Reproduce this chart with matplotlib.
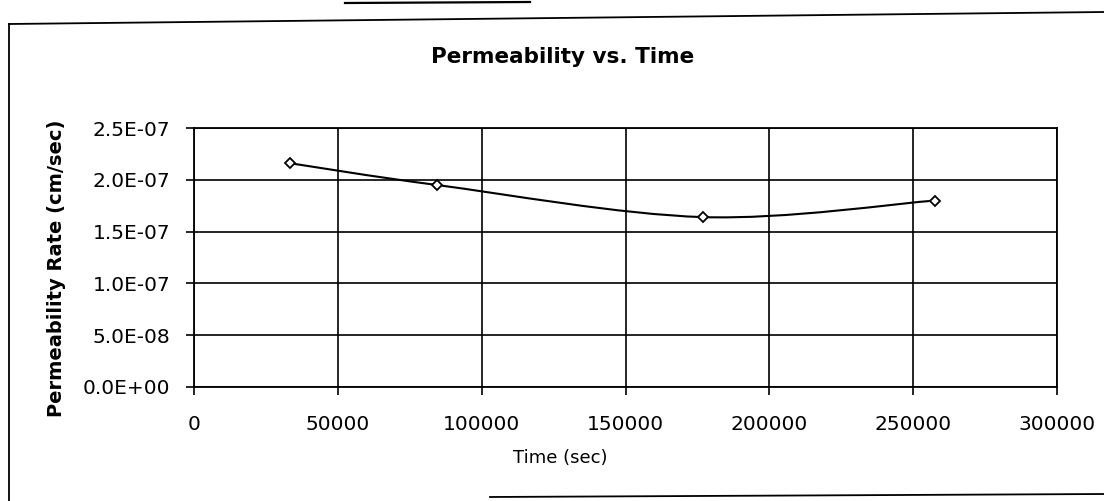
import numpy as np
import matplotlib
matplotlib.use("Agg")
import matplotlib.pyplot as plt
from matplotlib.path import Path
from matplotlib.patches import PathPatch
from matplotlib.lines import Line2D

# Measurements: elapsed time and permeability rate
time_sec = [33400, 84400, 176900, 257600]
permeability = [2.16e-07, 1.95e-07, 1.64e-07, 1.80e-07]

x_ticks = [0, 50000, 100000, 150000, 200000, 250000, 300000]
y_ticks = [0.0, 5.0e-08, 1.0e-07, 1.5e-07, 2.0e-07, 2.5e-07]

title = "Permeability vs. Time"
x_label = "Time (sec)"
y_label = "Permeability Rate (cm/sec)"

plt.rcParams["font.family"] = ["DejaVu Sans"]

W, H = 1104, 501
fig = plt.figure(figsize=(W / 100, H / 100), dpi=100)
fig.patch.set_facecolor("white")

# plot area in pixel terms
left, right, top, bottom = 194, 1057, 128, 387
ax = fig.add_axes([left / W, 1 - bottom / H, (right - left) / W, (bottom - top) / H])

ax.set_xlim(x_ticks[0], x_ticks[-1])
ax.set_ylim(y_ticks[0], y_ticks[-1])
ax.set_xticks(x_ticks)
ax.set_yticks(y_ticks)
ax.set_xticklabels([f"{v:d}" for v in x_ticks])
ax.set_yticklabels([f"{v:.1E}" for v in y_ticks])
ax.tick_params(direction="out", length=6, width=1.2, colors="black",
               labelsize=14.5)
ax.tick_params(axis="y", pad=11)
ax.tick_params(axis="x", pad=14)
ax.grid(True, color="black", linewidth=1.2)
ax.set_axisbelow(True)
for s in ax.spines.values():
    s.set_color("black")
    s.set_linewidth(1.3)

# smoothed connecting line (Catmull-Rom style Bezier, computed in axis-normalised space)
xr = x_ticks[-1] - x_ticks[0]
yr = y_ticks[-1] - y_ticks[0]
px = np.array(time_sec, float) / xr
py = np.array(permeability, float) / yr
pts = np.column_stack([px, py])
n = len(pts)
verts = [pts[0]]
codes = [Path.MOVETO]
k = 1.0 / 6.0
for i in range(n - 1):
    p0 = pts[i - 1] if i > 0 else pts[i]
    p1 = pts[i]
    p2 = pts[i + 1]
    p3 = pts[i + 2] if i + 2 < n else pts[i + 1]
    c1 = p1 + (p2 - p0) * k
    c2 = p2 - (p3 - p1) * k
    verts += [c1, c2, p2]
    codes += [Path.CURVE4] * 3
verts = np.array(verts) * np.array([xr, yr])
ax.add_patch(PathPatch(Path(verts, codes), facecolor="none",
                       edgecolor="black", linewidth=1.5, zorder=3))
ax.plot(time_sec, permeability, linestyle="none", marker="D", markersize=5,
        markerfacecolor="white", markeredgecolor="black", markeredgewidth=1.3,
        zorder=4)

# titles and axis labels
fig.text(563 / W, 1 - 57 / H, title, ha="center", va="center",
         fontsize=15.5, fontweight="bold")
fig.text(560 / W, 1 - 458 / H, x_label, ha="center", va="center", fontsize=13)
fig.text(56 / W, 1 - 268 / H, y_label, ha="center", va="center",
         rotation=90, fontsize=14, fontweight="bold")

# outer chart frame
def fline(x0, y0, x1, y1, lw=1.3):
    fig.add_artist(Line2D([x0 / W, x1 / W], [1 - y0 / H, 1 - y1 / H],
                          color="black", linewidth=lw))

fline(9, 24, 1104, 12)
fline(9, 24, 9, 501)
fline(490, 497, 1104, 494)
fline(345, 3, 530, 2, lw=1.6)

fig.savefig("out.png", dpi=100, facecolor="white")
